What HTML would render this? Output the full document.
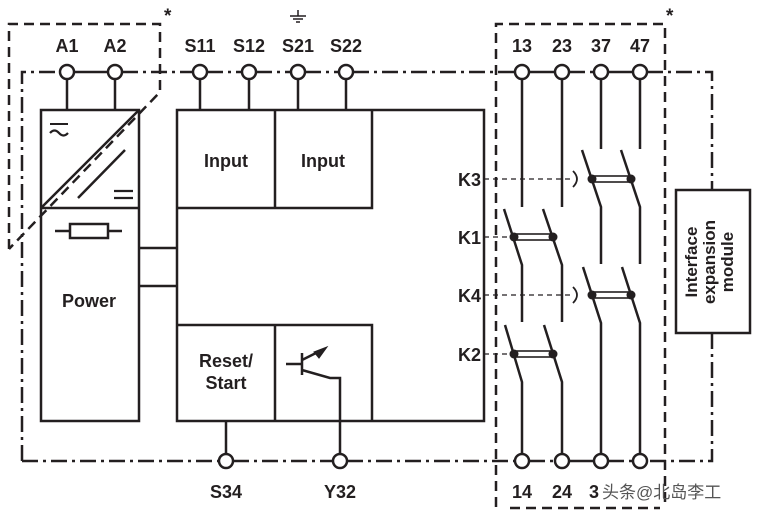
<!DOCTYPE html>
<html><head><meta charset="utf-8"><style>
html,body{margin:0;padding:0;background:#fff;}
svg{display:block;}
text{font-family:"Liberation Sans",Arial,sans-serif;font-weight:bold;fill:#231f20;}
</style></head><body>
<svg width="757" height="517" viewBox="0 0 757 517" xmlns="http://www.w3.org/2000/svg">
<g stroke="#231f20" stroke-width="2.5" fill="none">
<g stroke-dasharray="16,5,3,5">
<path d="M22,461 L22,72 L60,72"/>
<path d="M122,72 L193,72"/><path d="M207,72 L242,72"/><path d="M256,72 L291,72"/><path d="M305,72 L339,72"/>
<path d="M353,72 L515,72"/><path d="M569,72 L594,72"/><path d="M647,72 L712,72 L712,190"/>
<path d="M712,333 L712,461 L647,461"/><path d="M608,461 L633,461"/><path d="M529,461 L555,461"/>
<path d="M347,461 L515,461"/><path d="M233,461 L333,461"/><path d="M22,461 L219,461"/>
</g>
<path d="M74,72 L108,72 M529,72 L555,72 M608,72 L633,72 M569,461 L594,461"/>
<g stroke-dasharray="10,6">
<path d="M9,249 L9,24 L160,24 L160,92 L9,249"/>
<path d="M496,507 L496,24 L665,24 L665,507"/>
<path d="M510,508 L660,508"/>
</g>
<g fill="#fff">
<circle cx="67" cy="72" r="7"/><circle cx="115" cy="72" r="7"/>
<circle cx="200" cy="72" r="7"/><circle cx="249" cy="72" r="7"/><circle cx="298" cy="72" r="7"/><circle cx="346" cy="72" r="7"/>
<circle cx="522" cy="72" r="7"/><circle cx="562" cy="72" r="7"/><circle cx="601" cy="72" r="7"/><circle cx="640" cy="72" r="7"/>
<circle cx="226" cy="461" r="7"/><circle cx="340" cy="461" r="7"/>
<circle cx="522" cy="461" r="7"/><circle cx="562" cy="461" r="7"/><circle cx="601" cy="461" r="7"/><circle cx="640" cy="461" r="7"/>
</g>
<path d="M67,79 L67,110 M115,79 L115,110 M200,79 L200,110 M249,79 L249,110 M298,79 L298,110 M346,79 L346,110"/>
<path d="M298,10 L298,16 M290,16 L306,16 M293,19 L303,19 M296,22 L300,22" stroke-width="1.5"/>
<rect x="41" y="110" width="98" height="311"/>
<path d="M41,208 L139,208 M41,208 L139,110"/>
<path d="M78,198 L125,150"/>
<path d="M50,124 L68,124" stroke-width="2"/>
<path d="M50,133 q4.5,-5 9,0 t9,0" stroke-width="2.2"/>
<path d="M114,191 L133,191 M114,198 L133,198" stroke-width="2.2"/>
<rect x="70" y="224" width="38" height="14"/>
<path d="M55,231 L70,231 M108,231 L122,231"/>
<path d="M139,248 L177,248 M139,286 L177,286"/>
<rect x="177" y="110" width="307" height="311"/>
<path d="M177,208 L372,208 L372,110 M275,110 L275,208"/>
<path d="M177,325 L372,325 L372,421 M275,325 L275,421"/>
<path d="M226,421 L226,454"/>
<path d="M286,364 L302,364 M302,353 L302,375 M302,370 L330,378 L340,378 L340,454 M302,360 L318,352"/>
<path d="M327,347 L314,352 L319,358 Z" fill="#231f20" stroke-width="1"/>
<path d="M522,79 L522,207 M504,209 L522,265 L522,322 M505,325 L522,382 L522,454"/>
<path d="M562,79 L562,207 M543,209 L562,265 L562,322 M544,325 L562,382 L562,454"/>
<path d="M601,79 L601,149 M582,150 L601,207 L601,264 M583,267 L601,323 L601,454"/>
<path d="M640,79 L640,149 M621,150 L640,207 L640,264 M622,267 L640,323 L640,454"/>
<g stroke-width="1.6">
<rect x="514" y="234" width="39" height="6"/><rect x="514" y="351" width="39" height="6"/>
<rect x="592" y="176" width="39" height="6"/><rect x="592" y="292" width="39" height="6"/>
</g>
<g fill="#231f20" stroke="none">
<circle cx="514" cy="237" r="4.5"/><circle cx="553" cy="237" r="4.5"/>
<circle cx="514" cy="354" r="4.5"/><circle cx="553" cy="354" r="4.5"/>
<circle cx="592" cy="179" r="4.5"/><circle cx="631" cy="179" r="4.5"/>
<circle cx="592" cy="295" r="4.5"/><circle cx="631" cy="295" r="4.5"/>
</g>
<g stroke-width="1.2" stroke-dasharray="5,4">
<path d="M484,179 L572,179 M484,295 L572,295 M484,237 L510,237 M484,354 L510,354"/>
</g>
<path d="M573,171 Q581,179 573,187 M573,287 Q581,295 573,303" stroke-width="1.8"/>
<rect x="676" y="190" width="74" height="143"/>
</g>
<text x="164" y="22" font-size="19">*</text>
<text x="666" y="22" font-size="19">*</text>
<g font-size="18" text-anchor="middle">
<text x="67" y="52">A1</text><text x="115" y="52">A2</text>
<text x="200" y="52">S11</text><text x="249" y="52">S12</text><text x="298" y="52">S21</text><text x="346" y="52">S22</text>
<text x="522" y="52">13</text><text x="562" y="52">23</text><text x="601" y="52">37</text><text x="640" y="52">47</text>
<text x="226" y="498">S34</text><text x="340" y="498">Y32</text>
<text x="522" y="498">14</text><text x="562" y="498">24</text>
<text x="226" y="167">Input</text><text x="323" y="167">Input</text>
<text x="89" y="307">Power</text>
<text x="226" y="367">Reset/</text><text x="226" y="389">Start</text>
</g>
<g font-size="18" text-anchor="end">
<text x="481" y="186">K3</text><text x="481" y="244">K1</text><text x="481" y="302">K4</text><text x="481" y="361">K2</text>
</g>
<text x="589" y="498" font-size="18">3</text>
<text x="602" y="498" font-size="17" style="font-family:'Liberation Sans','Noto Sans CJK SC',sans-serif;font-weight:normal;fill:#555">头条@北岛李工</text>
<g font-size="17" text-anchor="middle" transform="translate(713,262) rotate(-90)">
<text x="0" y="-16">Interface</text><text x="0" y="2">expansion</text><text x="0" y="20">module</text>
</g>
</svg>
</body></html>
